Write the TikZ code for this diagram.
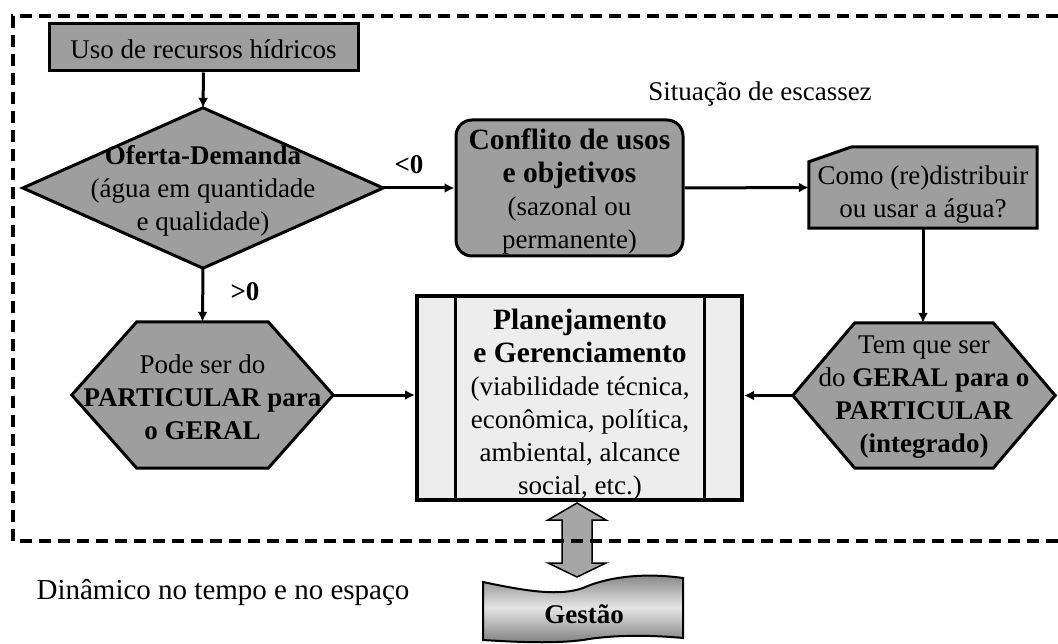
\documentclass[tikz,border=0pt]{standalone}
\usepackage{fontspec}
\setmainfont{Liberation Serif}
\usetikzlibrary{arrows.meta,backgrounds,calc}
\begin{document}
\begin{tikzpicture}[x=1pt,y=-1pt,
  base/.style={font=\fontsize{27}{33}\selectfont, text=black, align=center, inner sep=0pt},
  lab/.style={font=\fontsize{27}{33}\selectfont\bfseries, text=black, inner sep=0pt},
  grayshape/.style={fill=black!38, draw=black, line width=3pt, line join=miter},
  holder/.style={draw=none, inner sep=0pt},
  conn/.style={line width=3pt, -{Latex[length=10pt,width=10pt]}},
  frame/.style={line width=4pt, dash pattern=on 12pt off 7pt},
]
\useasboundingbox (0,0) rectangle (1058,644);

% top box
\node[grayshape, minimum width=309pt, minimum height=47pt] (uso) at (203.5,47.5) {};
\node[base] (usot) at (203.5,49) {Uso de recursos hídricos};

% diamond
\node[holder, minimum width=360pt, minimum height=160pt] (dia) at (203,188) {};
\node[base] (diat) at (203,191) {\textbf{Oferta-Demanda}\\(água em quantidade\\e qualidade)};

% conflito
\node[grayshape, rounded corners=16pt, minimum width=227pt, minimum height=136pt] (conf) at (569.5,188) {};
\node[base] (conft) at (569.5,191) {{\fontsize{29.5}{35}\selectfont\bfseries Conflito de usos}\\{\fontsize{29.5}{35}\selectfont\bfseries e objetivos}\\(sazonal ou\\permanente)};

% como
\node[holder, minimum width=228pt, minimum height=81pt] (como) at (923,187.5) {};
\node[base] (comot) at (923,195) {Como (re)distribuir\\ou usar a água?};

% hexagons
\node[holder, minimum width=261pt, minimum height=146pt] (lhex) at (202.5,395) {};
\node[base] (lhext) at (202.5,397) {Pode ser do\\\textbf{PARTICULAR para}\\\textbf{o GERAL}};

\node[holder, minimum width=262pt, minimum height=145pt] (rhex) at (924,395.5) {};
\node[base] (rhext) at (924,397) {Tem que ser\\do \textbf{GERAL para o}\\\textbf{PARTICULAR}\\\textbf{(integrado)}};

% planejamento
\node[draw=black, fill=black!7, line width=4pt, minimum width=325pt, minimum height=204pt, inner sep=0pt] (plan) at (579.5,398) {};
\draw[line width=3pt] ([xshift=40pt]plan.north west) -- ([xshift=40pt]plan.south west);
\draw[line width=3pt] ([xshift=-40pt]plan.north east) -- ([xshift=-40pt]plan.south east);
\node[base] (plant) at (580,405) {{\fontsize{29.5}{35}\selectfont\bfseries Planejamento}\\{\fontsize{29.5}{35}\selectfont\bfseries e Gerenciamento}\\(viabilidade técnica,\\econômica, política,\\ambiental, alcance\\social, etc.)};

\begin{scope}[on background layer]
\draw[grayshape] (dia.west) -- (dia.north) -- (dia.east) -- (dia.south) -- cycle;
\draw[grayshape] ([yshift=-15pt]como.north west) -- ([xshift=43pt]como.north west) -- (como.north east) -- (como.south east) -- (como.south west) -- cycle;
\draw[grayshape] (lhex.west) -- ([xshift=65pt]lhex.north west) -- ([xshift=-65pt]lhex.north east) -- (lhex.east) -- ([xshift=-65pt]lhex.south east) -- ([xshift=65pt]lhex.south west) -- cycle;
\draw[grayshape] (rhex.west) -- ([xshift=62pt]rhex.north west) -- ([xshift=-62pt]rhex.north east) -- (rhex.east) -- ([xshift=-62pt]rhex.south east) -- ([xshift=62pt]rhex.south west) -- cycle;
\end{scope}

% connectors
\draw[conn] (uso.south) -- (dia.north);
\draw[conn] (dia.east) -- (conf.west);
\node[lab] (lt) at (409,165) {<0};
\draw[conn] (dia.south) -- (lhex.north);
\node[lab] (gt) at (245,292) {>0};
\draw[conn] (conf.east) -- (como.west);
\draw[conn] (como.south) -- (como.south |- rhex.north);
\draw[conn] (rhex.west) -- (rhex.west -| plan.east);
\draw[conn] (lhex.east) -- (lhex.east -| plan.west);

% free texts
\node[base] (sit) at (760,94) {Situação de escassez};
\node[base, font=\fontsize{29}{35}\selectfont] (din) at (223,592) {Dinâmico no tempo e no espaço};

% gestao
\path[draw=black, line width=2pt, top color=black!50, bottom color=black!50, middle color=black!10]
 (483,582) .. controls (530,592) and (560,596) .. (583,588) .. controls (605,578) and (640,572) .. (683,578)
 -- (683,638) .. controls (640,634) and (605,636) .. (583,640) .. controls (560,643) and (530,643) .. (483,640) -- cycle;
\node[lab] (gestao) at (584,614) {Gestão};

% double arrow
\coordinate (da1) at (577,503);
\coordinate (da2) at (577,577);
\draw[fill=black!35, draw=black, line width=1.5pt, line join=miter]
 (da1) -- ++(29,17) -- ++(-14,0) -- ++(0,43) -- ++(14,0) -- (da2) -- ++(-29,-14) -- ++(14,0) -- ++(0,-43) -- ++(-14,0) -- cycle;

% dashed frame
\draw[frame] (1058,16) -- (13,16) -- (13,541) -- (1058,541);
\end{tikzpicture}
\end{document}
